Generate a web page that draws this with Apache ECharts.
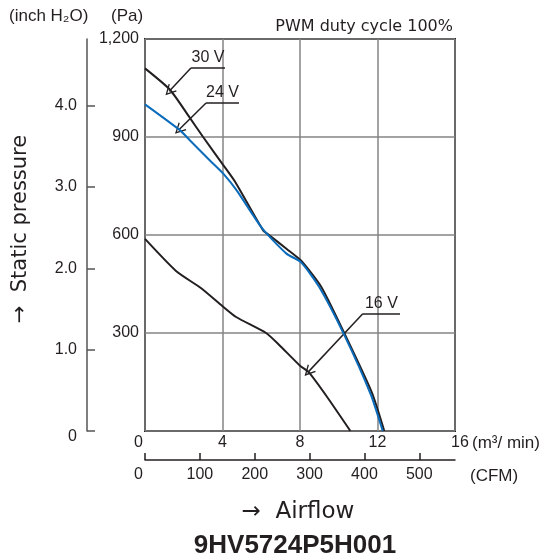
<!DOCTYPE html>
<html>
<head>
<meta charset="utf-8">
<script src="https://cdn.jsdelivr.net/npm/echarts@6/dist/echarts.min.js"></script>
<style>
  html, body { margin: 0; padding: 0; background: #fff; }
  #chart { width: 547px; height: 560px; }
</style>
</head>
<body>
<div id="chart"></div>
<script>
// airflow (m3/min) vs static pressure (Pa)
var flow30 = [0, 1.3, 2.3, 3.0, 4.04, 4.65, 6.1, 6.4, 7.3, 8.05, 9.1, 10.3, 11.7, 12.35];
var pres30 = [1110, 1044, 960, 900, 814, 763, 614, 600, 558, 522, 441, 298, 119, 0];
var flow24 = [0, 1.8, 2.3, 3.35, 4.05, 4.75, 6.05, 7.3, 8.05, 9.0, 10.3, 11.65, 12.27];
var pres24 = [1000, 921, 891, 828, 787, 735, 620, 543, 517, 440, 292, 112, 0];
var flow16 = [0, 1.6, 2.9, 4.0, 4.7, 6.25, 6.9, 8.0, 8.45, 9.4, 10.6];
var pres16 = [588, 490, 437, 382, 349, 300, 265, 200, 180, 104, 0];

// tick values
var flowTicks = [0, 4, 8, 12, 16];
var cfmTicks = [0, 100, 200, 300, 400, 500];
var inchTicks = [0, 1, 2, 3, 4];

// voltage call-outs: arrow tip, elbow, end of underline
var noteNames = ['30 V', '24 V', '16 V'];
var noteTip = [[1.25, 1040], [1.75, 922], [8.43, 181]];
var noteElbow = [[2.37, 1111], [3.15, 1004], [11.24, 359]];
var noteEnd = [[4.13, 1111], [4.85, 1004], [13.16, 359]];

var PA_PER_INCH = 249.089;
var CFM_PER_M3 = 35.3147;
var ink = '#231f20';
var font = 'Liberation Sans';

function pairs(xs, ys) {
  return xs.map(function (x, i) { return [x, ys[i]]; });
}

var arrowHead = 'path://M5,0 L10,12 L8.9,12.6 L5,3.2 L1.1,12.6 L0,12 Z';

var chart = echarts.init(document.getElementById('chart'));

var option = {
  animation: false,
  textStyle: { fontFamily: font, color: ink },
  grid: {
    left: 145, top: 39, width: 310, height: 392,
    show: true, borderColor: ink, borderWidth: 2, backgroundColor: 'transparent'
  },
  xAxis: [
    {
      type: 'value', min: 0, max: 16, interval: 4,
      axisLine: { show: false }, axisTick: { show: false },
      splitLine: { lineStyle: { color: '#858585', width: 1.5 } },
      axisLabel: {
        margin: 4, fontSize: 16, color: ink,
        formatter: function (v) {
          if (v === 0) return '{l|0}';
          if (v === 16) return '{r|16}';
          return String(v);
        },
        rich: {
          l: { padding: [0, 13, 0, 0], fontSize: 16, color: ink },
          r: { padding: [0, 0, 0, 10], fontSize: 16, color: ink }
        }
      }
    },
    {
      type: 'value', position: 'bottom', offset: 29,
      min: 0, max: 16 * CFM_PER_M3,
      axisLine: { show: true, onZero: false, lineStyle: { color: ink, width: 1.5 } },
      axisTick: { show: true, inside: true, length: 7, customValues: cfmTicks, lineStyle: { color: ink, width: 1.5 } },
      splitLine: { show: false },
      axisLabel: {
        margin: 7, fontSize: 16, color: ink, customValues: cfmTicks,
        formatter: function (v) { return v === 0 ? '{l|0}' : String(v); },
        rich: { l: { padding: [0, 13, 0, 0], fontSize: 16, color: ink } }
      }
    }
  ],
  yAxis: [
    {
      type: 'value', min: 0, max: 1200, interval: 300,
      axisLine: { show: false }, axisTick: { show: false },
      splitLine: { lineStyle: { color: '#858585', width: 1.5 } },
      axisLabel: {
        margin: 6, fontSize: 16, color: ink,
        formatter: function (v) { return v === 0 ? '' : v.toLocaleString('en-US'); }
      }
    },
    {
      type: 'value', position: 'left', offset: 58,
      min: 0, max: 1200 / PA_PER_INCH,
      axisLine: { show: true, onZero: false, lineStyle: { color: '#555', width: 1.5 } },
      axisTick: { show: true, inside: true, length: 8, customValues: inchTicks, lineStyle: { color: '#555', width: 1.5 } },
      splitLine: { show: false },
      axisLabel: {
        margin: 10, fontSize: 16, color: ink, customValues: inchTicks,
        formatter: function (v) { return v === 0 ? '{z|0}' : v.toFixed(1); },
        rich: { z: { padding: [12, 0, 0, 0], fontSize: 16, color: ink } }
      }
    }
  ],
  series: [
    {
      name: '16 V', type: 'line', symbol: 'none', smooth: 0.2, data: pairs(flow16, pres16),
      lineStyle: { color: ink, width: 2 }
    },
    {
      name: '30 V', type: 'line', symbol: 'none', smooth: 0.2, data: pairs(flow30, pres30),
      lineStyle: { color: ink, width: 2 }
    },
    {
      name: '24 V', type: 'line', symbol: 'none', smooth: 0.2, data: pairs(flow24, pres24),
      lineStyle: { color: '#0b6cbc', width: 2 }
    },
    {
      // underlines with voltage text
      type: 'lines', coordinateSystem: 'cartesian2d', symbol: 'none',
      lineStyle: { color: ink, width: 1.5, opacity: 1 },
      label: {
        show: true, position: 'insideMiddleTop', distance: 2,
        formatter: '{b}', fontSize: 16, color: ink, fontFamily: font
      },
      data: noteNames.map(function (n, i) {
        return { name: n, coords: [noteElbow[i], noteEnd[i]] };
      })
    },
    {
      // leaders with arrow heads
      type: 'lines', coordinateSystem: 'cartesian2d',
      symbol: ['none', arrowHead], symbolSize: [8, 11],
      lineStyle: { color: ink, width: 1.5, opacity: 1 },
      data: noteNames.map(function (n, i) {
        return { coords: [noteElbow[i], noteTip[i]] };
      })
    }
  ],
  graphic: [
    { type: 'text', x: 9, y: 16, style: { text: '(inch H\u2082O)', font: '17px "Liberation Sans"', fill: ink, align: 'left', verticalAlign: 'middle' } },
    { type: 'text', x: 111, y: 16, style: { text: '(Pa)', font: '17px "Liberation Sans"', fill: ink, align: 'left', verticalAlign: 'middle' } },
    { type: 'text', x: 453, y: 27, style: { text: 'PWM duty cycle 100%', font: '16px "DejaVu Sans"', fill: ink, align: 'right', verticalAlign: 'middle' } },
    { type: 'text', x: 472, y: 443, style: { text: '(m\u00b3/ min)', font: '17px "Liberation Sans"', fill: ink, align: 'left', verticalAlign: 'middle' } },
    { type: 'text', x: 470, y: 476, style: { text: '(CFM)', font: '17px "Liberation Sans"', fill: ink, align: 'left', verticalAlign: 'middle' } },
    { type: 'text', x: 298, y: 512, style: { text: '\u2192  Airflow', font: '23px "DejaVu Sans"', fill: ink, align: 'center', verticalAlign: 'middle' } },
    { type: 'text', x: 295, y: 546, style: { text: '9HV5724P5H001', font: 'bold 26px "Liberation Sans"', fill: ink, align: 'center', verticalAlign: 'middle' } },
    { type: 'text', x: 21, y: 229, rotation: Math.PI / 2, style: { text: '\u2192  Static pressure', font: '21px "DejaVu Sans"', fill: ink, align: 'center', verticalAlign: 'middle' } }
  ]
};

chart.setOption(option);
</script>
</body>
</html>
